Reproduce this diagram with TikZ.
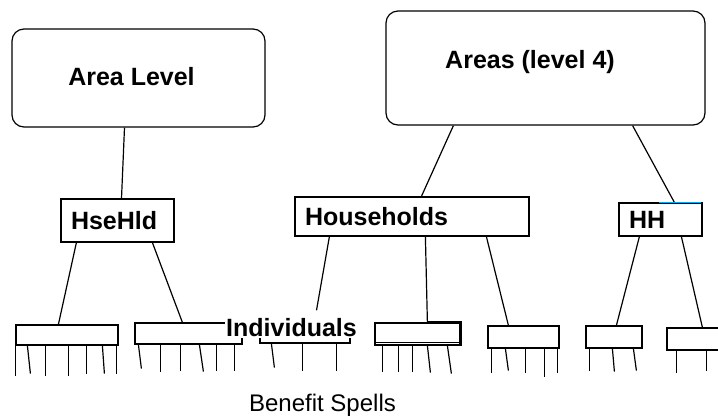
\documentclass[tikz,border=0pt]{standalone}
\usepackage{fontspec}
\setmainfont{Liberation Sans}
\usetikzlibrary{
    positioning,
}
\tikzstyle{block} = [rectangle, draw, rounded corners=12pt, inner sep=0pt]
\tikzstyle{hhblock} = [rectangle, draw, inner xsep=10pt, inner ysep=0pt,
    align=left, font=\bfseries\fontsize{25}{30}\selectfont]
\tikzstyle{indblock} = [rectangle, draw, inner sep=0pt]
\tikzstyle{title} = [font=\bfseries\fontsize{25}{30}\selectfont, anchor=base]
\tikzstyle{line} = [draw]

\begin{document}
\begin{tikzpicture}[x=1pt, y=-1pt, line width=1.2pt]
        \useasboundingbox (0,0) rectangle (718,416);
        % Place nodes
        \node [block, minimum width=253pt, minimum height=98pt] (arealevel) at (138.5,78) {};
        \node [title] (arealevelTxt) at (131.5,85) {Area Level};
        \node [block, minimum width=319pt, minimum height=114pt] (areas) at (545.5,68) {};
        \node [title] (areasTxt) at (530,68) {Areas (level 4)};
        \node [hhblock, text width=93pt, minimum height=43pt] (hsehld) at (117.5,220.5) {HseHld};
        \node [hhblock, text width=214pt, minimum height=39pt] (households) at (412,216.5) {Households};
        \node [hhblock, text width=63pt, minimum height=33pt] (hh) at (660.5,219.5) {HH};
        \node [indblock, minimum width=102pt, minimum height=20pt] (ind1) at (67,335) {};
        \node [indblock, minimum width=107pt, minimum height=21pt] (ind2) at (188.5,333.5) {};
        \node [indblock, minimum width=90pt, minimum height=20pt] (ind3) at (305,333) {};
        \node [indblock, minimum width=85pt, minimum height=22pt] (ind4) at (417.5,334) {};
        \node [indblock, minimum width=71pt, minimum height=22pt] (ind5) at (523.5,337) {};
        \node [indblock, minimum width=56pt, minimum height=22pt] (ind6) at (614,337) {};
        \node [indblock, minimum width=73pt, minimum height=22pt] (ind7) at (703.5,339) {};
        \node [title, fill=white, inner xsep=1pt, inner ysep=2pt] (indiv) at (291.5,336) {Individuals};
        \node [anchor=base, font=\fontsize{24}{28}\selectfont] (spells) at (322.5,411) {Benefit Spells};
        % Draw edges
        \path [line] ([xshift=-14pt]arealevel.south) -- ([xshift=4pt]hsehld.north);
        \path [line] ([xshift=68pt]areas.south west) -- ([xshift=127pt]households.north west);
        \path [line] ([xshift=-73pt]areas.south east) -- ([xshift=56pt]hh.north west);
        \path [line] ([xshift=16pt]hsehld.south west) -- ([xshift=43pt]ind1.north west);
        \path [line] ([xshift=92pt]hsehld.south west) -- ([xshift=48pt]ind2.north west);
        \path [line] ([xshift=35pt]households.south west) -- ([xshift=25pt,yshift=5pt]indiv.north);
        \path [line] ([xshift=131pt]households.south west) -- ([xshift=53pt]ind4.north west);
        \path [line] ([xshift=192pt]households.south west) -- ([xshift=21pt]ind5.north west);
        \path [line] ([xshift=21pt]hh.south west) -- ([xshift=31pt]ind6.north west);
        \path [line] ([xshift=63pt]hh.south west) -- ([xshift=36pt]ind7.north west);
        % odd bits
        \path [line, line width=2.4pt] ([xshift=53pt]ind4.north west) -- (ind4.north east) -- (ind4.south east);
        \path [line] ([xshift=2pt,yshift=3pt]ind4.south west) -- ([xshift=-1pt,yshift=3pt]ind4.south east);
        \path [line, cyan] ([xshift=41pt]hh.north west) -- ([xshift=-2pt]hh.north east);
        % Benefit spells
        \foreach \a/\b/\l in {0/0/30, 12/15/28, 30/30/30, 53/53/30, 71/71/28, 87/89/28, 101/101/28}
            \path [line] ([xshift=\a pt]ind1.south west) -- ([xshift=\b pt,yshift=-\l pt]ind1.south west);
        \foreach \a/\b/\l in {4/7/24, 26/26/27, 46/46/26, 65/69/27, 82/82/26, 100/100/26}
            \path [line] ([xshift=\a pt]ind2.south west) -- ([xshift=\b pt,yshift=-\l pt]ind2.south west);
        \foreach \a/\b/\l in {12/15/24, 43/43/27, 77/77/27}
            \path [line] ([xshift=\a pt]ind3.south west) -- ([xshift=\b pt,yshift=-\l pt]ind3.south west);
        \foreach \a/\b/\l in {8/8/26, 24/24/26, 38/38/26, 53/56/27, 73/77/28}
            \path [line] ([xshift=\a pt]ind4.south west) -- ([xshift=\b pt,yshift=-\l pt]ind4.south west);
        \foreach \a/\b/\l in {4/4/24, 18/21/22, 38/38/24, 57/57/28, 70/70/24}
            \path [line] ([xshift=\a pt]ind5.south west) -- ([xshift=\b pt,yshift=-\l pt]ind5.south west);
        \foreach \a/\b/\l in {4/4/22, 27/29/23, 48/51/22}
            \path [line] ([xshift=\a pt]ind6.south west) -- ([xshift=\b pt,yshift=-\l pt]ind6.south west);
        \foreach \a/\b/\l in {10/10/22, 40/40/20}
            \path [line] ([xshift=\a pt]ind7.south west) -- ([xshift=\b pt,yshift=-\l pt]ind7.south west);
    \end{tikzpicture}
\end{document}
